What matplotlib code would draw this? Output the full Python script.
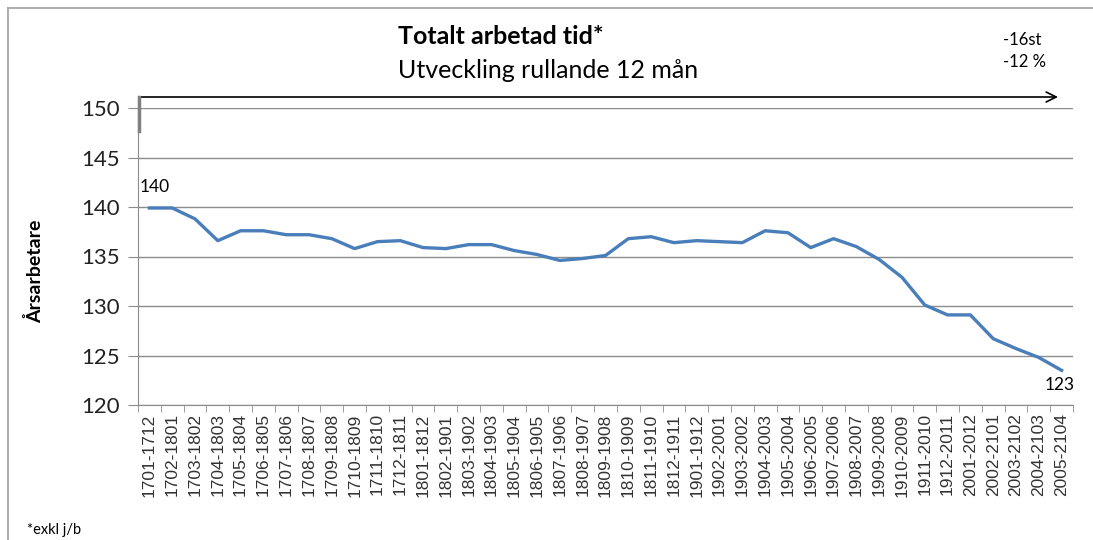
import matplotlib.pyplot as plt
from matplotlib.lines import Line2D

# Perioder (rullande 12 mån)
perioder = ['1701-1712', '1702-1801', '1703-1802', '1704-1803', '1705-1804', '1706-1805',
            '1707-1806', '1708-1807', '1709-1808', '1710-1809', '1711-1810', '1712-1811',
            '1801-1812', '1802-1901', '1803-1902', '1804-1903', '1805-1904', '1806-1905',
            '1807-1906', '1808-1907', '1809-1908', '1810-1909', '1811-1910', '1812-1911',
            '1901-1912', '1902-2001', '1903-2002', '1904-2003', '1905-2004', '1906-2005',
            '1907-2006', '1908-2007', '1909-2008', '1910-2009', '1911-2010', '1912-2011',
            '2001-2012', '2002-2101', '2003-2102', '2004-2103', '2005-2104']

# Årsarbetare
arsarbetare = [139.9, 139.9, 138.8, 136.6, 137.6, 137.6, 137.2, 137.2, 136.8, 135.8,
               136.5, 136.6, 135.9, 135.8, 136.2, 136.2, 135.6, 135.2, 134.6, 134.8,
               135.1, 136.8, 137.0, 136.4, 136.6, 136.5, 136.4, 137.6, 137.4, 135.9,
               136.8, 136.0, 134.7, 132.9, 130.1, 129.1, 129.1, 126.7, 125.7, 124.8,
               123.5]

y_ticks = [120, 125, 130, 135, 140, 145, 150]

W, H = 1093, 540
fig = plt.figure(figsize=(W / 100, H / 100), dpi=100)
plt.rcParams['font.family'] = ['Lato', 'DejaVu Sans']

grid_color = '#8c8c8c'
line_color = '#4a7ebb'

ax = fig.add_axes([138 / W, 1 - 405 / H, (1073 - 138) / W, (405 - 108) / H])
x = list(range(len(perioder)))
ax.plot(x, arsarbetare, color=line_color, linewidth=2.4, solid_joinstyle='round')

ax.set_xlim(-0.5, len(perioder) - 0.5)
ax.set_ylim(120, 150)
ax.set_yticks(y_ticks)
ax.set_yticklabels([str(v) for v in y_ticks], fontsize=16, color='#222222')
ax.yaxis.grid(True, color=grid_color, linewidth=1)
ax.set_axisbelow(True)

# kategorietiketter i mitten, tickmarkeringar mellan kategorierna
ax.set_xticks(x)
ax.set_xticklabels(perioder, rotation=90, fontsize=12.5, family=['Liberation Sans', 'DejaVu Sans'],
                   color='#333333')
ax.tick_params(axis='x', which='major', length=0, pad=6)
ax.set_xticks([i - 0.5 for i in range(len(perioder) + 1)], minor=True)
ax.tick_params(axis='x', which='minor', length=5, color=grid_color, direction='out')
ax.tick_params(axis='y', length=7, color=grid_color, pad=6)

for s in ['top', 'right']:
    ax.spines[s].set_visible(False)
ax.spines['left'].set_color(grid_color)
ax.spines['bottom'].set_color(grid_color)

ax.set_ylabel('Årsarbetare', fontsize=14, fontweight='bold')
ax.yaxis.set_label_coords(-0.1, 0.45)

# datatiketter
ax.annotate('140', (x[0], arsarbetare[0]), xytext=(-7, 9), textcoords='offset points',
            fontsize=12.5, ha='left', va='bottom')
ax.annotate('123', (x[-1], arsarbetare[-1]), xytext=(-12, -5), textcoords='offset points',
            fontsize=12.5, ha='left', va='top')

# rubriker
fig.text(398 / W, 1 - 37 / H, 'Totalt arbetad tid*', fontsize=18, fontweight='bold',
         ha='left', va='center')
fig.text(398 / W, 1 - 70 / H, 'Utveckling rullande 12 mån', fontsize=18,
         ha='left', va='center')
fig.text(1003 / W, 1 - 40 / H, '-16st', fontsize=12, ha='left', va='center')
fig.text(1003 / W, 1 - 62 / H, '-12 %', fontsize=12, ha='left', va='center')
fig.text(27 / W, 1 - 530 / H, '*exkl j/b', fontsize=10.5, ha='left', va='center')

# pil ovanför diagrammet
fig.add_artist(Line2D([139 / W, 139 / W], [1 - 131 / H, 1 - 97 / H], color='#808080',
                      linewidth=2.5, transform=fig.transFigure))
ax.annotate('', xy=(1058 / W, 1 - 97 / H), xytext=(139 / W, 1 - 97 / H),
            xycoords='figure fraction', textcoords='figure fraction',
            arrowprops=dict(arrowstyle='->', color='black', linewidth=1.2,
                            mutation_scale=18, shrinkA=0, shrinkB=0))

# ram runt diagrammet
fig.add_artist(Line2D([8 / W, 8 / W], [0, 1 - 8 / H], color='#a0a0a0', linewidth=1.2,
                      transform=fig.transFigure))
fig.add_artist(Line2D([8 / W, 1], [1 - 8 / H, 1 - 8 / H], color='#a0a0a0', linewidth=1.2,
                      transform=fig.transFigure))

fig.savefig('out.png', dpi=100)
